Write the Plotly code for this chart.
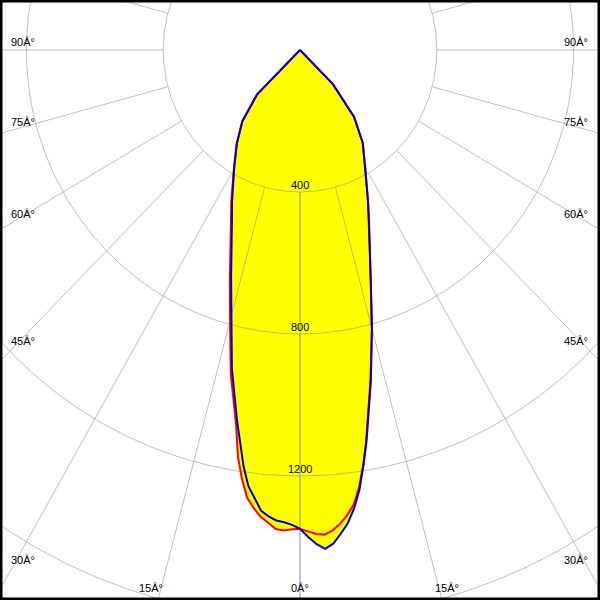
import numpy as np
import plotly.graph_objects as go

# ---- data: luminous intensity (cd) versus gamma angle (deg) ----
gamma = [0, 1, 2, 3, 4, 5, 6, 7, 8, 9, 10, 12.5, 15, 17.5, 20, 22.5, 25, 30, 35, 40, 45, 50]
red_left = [1349, 1350, 1354, 1351, 1335, 1320, 1297, 1270, 1220, 1160, 1075, 935, 790, 682, 595, 528, 476, 387, 323, 263, 178, 0]
red_right = [1349, 1357, 1364, 1367, 1357, 1340, 1318, 1290, 1243, 1183, 1115, 952, 812, 690, 597, 528, 470, 382, 320, 246, 136, 0]
blue_left = [1349, 1338, 1331, 1327, 1317, 1303, 1271, 1238, 1185, 1120, 1060, 920, 775, 670, 585, 520, 470, 385, 322, 262, 178, 0]
blue_right = [1349, 1372, 1393, 1407, 1394, 1368, 1340, 1300, 1250, 1185, 1120, 957, 813, 691, 599, 528, 471, 382, 320, 246, 136, 0]

ring_values = [400, 800, 1200, 1600, 2000]
ring_labels = [400, 800, 1200]
spoke_angles = list(range(0, 181, 15))

angle_texts = ["90Â°", "75Â°", "60Â°", "45Â°", "30Â°"]
bottom_texts = ["15Â°", "0Â°", "15Â°"]

# ---- layout constants ----
X_HALF = 877.2
Y_TOP = 140.8
Y_BOTTOM = -1549.3
FONT = dict(family="Liberation Sans, Arial, sans-serif", size=11, color="black")
GRID = "rgba(140,140,140,0.55)"


def to_xy(angles, values, side):
    a = np.radians(np.asarray(angles, dtype=float))
    v = np.asarray(values, dtype=float)
    return side * v * np.sin(a), -v * np.cos(a)


def closed_curve(left, right):
    xl, yl = to_xy(gamma[::-1], left[::-1], -1)
    xr, yr = to_xy(gamma[1:], right[1:], 1)
    return np.concatenate([xl, xr]), np.concatenate([yl, yr])


rx, ry = closed_curve(red_left, red_right)
bx, by = closed_curve(blue_left, blue_right)

fig = go.Figure()

# yellow fills (union of the two planes)
for cx, cy in [(rx, ry), (bx, by)]:
    fig.add_trace(go.Scatter(x=cx, y=cy, mode="lines", fill="toself",
                             fillcolor="#FFFF00", line=dict(width=0, color="#FFFF00"),
                             hoverinfo="skip"))

# grid rings
t = np.linspace(0, 2 * np.pi, 721)
gx, gy = [], []
for r in ring_values:
    gx += list(r * np.sin(t)) + [None]
    gy += list(-r * np.cos(t)) + [None]
# spokes starting at the first ring
for a in spoke_angles:
    for s in (-1, 1):
        x0, y0 = to_xy([a], [ring_values[0]], s)
        x1, y1 = to_xy([a], [3000], s)
        gx += [x0[0], x1[0], None]
        gy += [y0[0], y1[0], None]
fig.add_trace(go.Scatter(x=gx, y=gy, mode="lines", line=dict(color=GRID, width=1),
                         hoverinfo="skip"))

# outlines
fig.add_trace(go.Scatter(x=rx, y=ry, mode="lines", line=dict(color="#FF0000", width=2),
                         name="C0-C180"))
fig.add_trace(go.Scatter(x=bx, y=by, mode="lines", line=dict(color="#0000D2", width=2),
                         name="C90-C270"))

annotations = []
for r in ring_labels:
    annotations.append(dict(x=0, y=-r, xref="x", yref="y", text=str(r), showarrow=False,
                            yanchor="bottom", xanchor="center", yshift=-1, font=FONT))

side_y = [42, 122, 214, 341, 560]
for txt, py in zip(angle_texts, side_y):
    annotations.append(dict(x=9 / 600, y=1 - py / 600, xref="paper", yref="paper", text=txt,
                            showarrow=False, xanchor="left", yanchor="middle", font=FONT))
    annotations.append(dict(x=590 / 600, y=1 - py / 600, xref="paper", yref="paper", text=txt,
                            showarrow=False, xanchor="right", yanchor="middle", font=FONT))
for txt, px in zip(bottom_texts, [151, 300, 447]):
    annotations.append(dict(x=px / 600, y=1 - 588 / 600, xref="paper", yref="paper", text=txt,
                            showarrow=False, xanchor="center", yanchor="middle", font=FONT))

fig.update_layout(
    width=600, height=600,
    margin=dict(l=0, r=0, t=0, b=0),
    paper_bgcolor="white", plot_bgcolor="white",
    showlegend=False,
    xaxis=dict(range=[-X_HALF, X_HALF], visible=False, fixedrange=True),
    yaxis=dict(range=[Y_BOTTOM, Y_TOP], visible=False, fixedrange=True),
    annotations=annotations,
    shapes=[dict(type="rect", xref="paper", yref="paper", x0=0, y0=0, x1=1, y1=1,
                 line=dict(color="black", width=5), layer="above")],
)

fig.write_html("out.html", config={"displayModeBar": False},
               post_script="document.body.style.margin='0';document.body.style.overflow='hidden';")
